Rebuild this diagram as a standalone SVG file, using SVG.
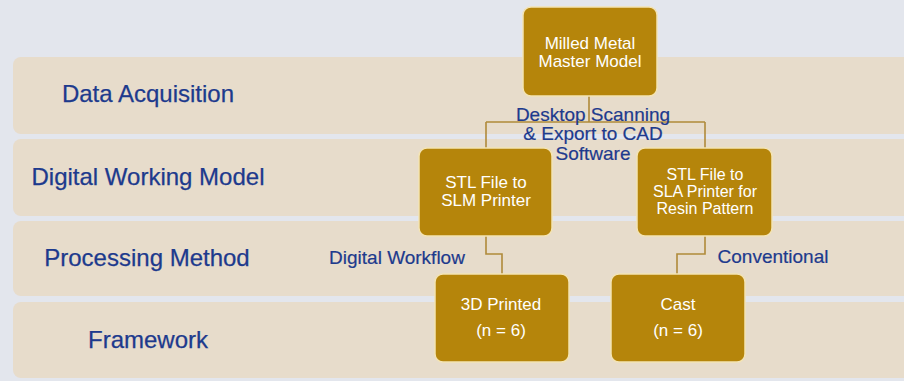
<svg xmlns="http://www.w3.org/2000/svg" width="904" height="381" viewBox="0 0 904 381">
<style>
.band{fill:#e7dccb}
.lbl{font-family:"Liberation Sans",Arial,sans-serif;font-size:24px;fill:#1d3a8d;text-anchor:middle;stroke:#1d3a8d;stroke-width:0.25}
.cl{font-family:"Liberation Sans",Arial,sans-serif;font-size:19px;fill:#1d3a8d;text-anchor:middle;stroke:#1d3a8d;stroke-width:0.2}
.node rect{fill:#b5850b;stroke:#f4e4b4;stroke-width:1.5}
.node text{font-family:"Liberation Sans",Arial,sans-serif;font-size:16px;fill:#ffffff;text-anchor:middle}
.conn path{fill:none;stroke:#b08a3a;stroke-width:1.6}
</style>
<rect x="0" y="0" width="904" height="381" fill="#e3e6ed"/>
<g id="bands">
<rect class="band" x="13" y="57" width="900" height="77" rx="8"/>
<rect class="band" x="13" y="139" width="900" height="77" rx="8"/>
<rect class="band" x="13" y="221" width="900" height="75" rx="8"/>
<rect class="band" x="13" y="302" width="900" height="76" rx="8"/>
</g>
<g id="row-labels">
<text class="lbl" x="148" y="102">Data Acquisition</text>
<text class="lbl" x="148" y="185">Digital Working Model</text>
<text class="lbl" x="147" y="266">Processing Method</text>
<text class="lbl" x="148" y="348">Framework</text>
</g>
<g id="connectors" class="conn">
<path d="M589 96 V122 M486 122 H705 M486 122 V148 M705 122 V148"/>
<path d="M486 236 V254 H502 V274"/>
<path d="M705 236 V254 H677 V274"/>
</g>
<g id="connector-labels">
<text class="cl" x="593" y="121">Desktop Scanning</text>
<text class="cl" x="593" y="140">&amp; Export to CAD</text>
<text class="cl" x="593" y="160">Software</text>
<text class="cl" x="397" y="264">Digital Workflow</text>
<text class="cl" x="773" y="263">Conventional</text>
</g>
<g id="n-master" class="node">
<rect x="523" y="7" width="134" height="89" rx="8"/>
<text x="590" y="49" style="font-size:17px">Milled Metal</text>
<text x="590" y="67" style="font-size:17px">Master Model</text>
</g>
<g id="n-slm" class="node">
<rect x="419" y="148" width="133" height="88" rx="8"/>
<text x="486" y="188" style="font-size:17px">STL File to</text>
<text x="486" y="206" style="font-size:17px">SLM Printer</text>
</g>
<g id="n-sla" class="node">
<rect x="637" y="148" width="135" height="88" rx="8"/>
<text x="705" y="180">STL File to</text>
<text x="705" y="197">SLA Printer for</text>
<text x="705" y="214">Resin Pattern</text>
</g>
<g id="n-printed" class="node">
<rect x="435" y="274" width="134" height="88" rx="8"/>
<text x="501" y="310" style="font-size:17px">3D Printed</text>
<text x="501" y="336" style="font-size:17px">(n = 6)</text>
</g>
<g id="n-cast" class="node">
<rect x="611" y="274" width="134" height="88" rx="8"/>
<text x="678" y="310" style="font-size:17px">Cast</text>
<text x="678" y="336" style="font-size:17px">(n = 6)</text>
</g>
</svg>
